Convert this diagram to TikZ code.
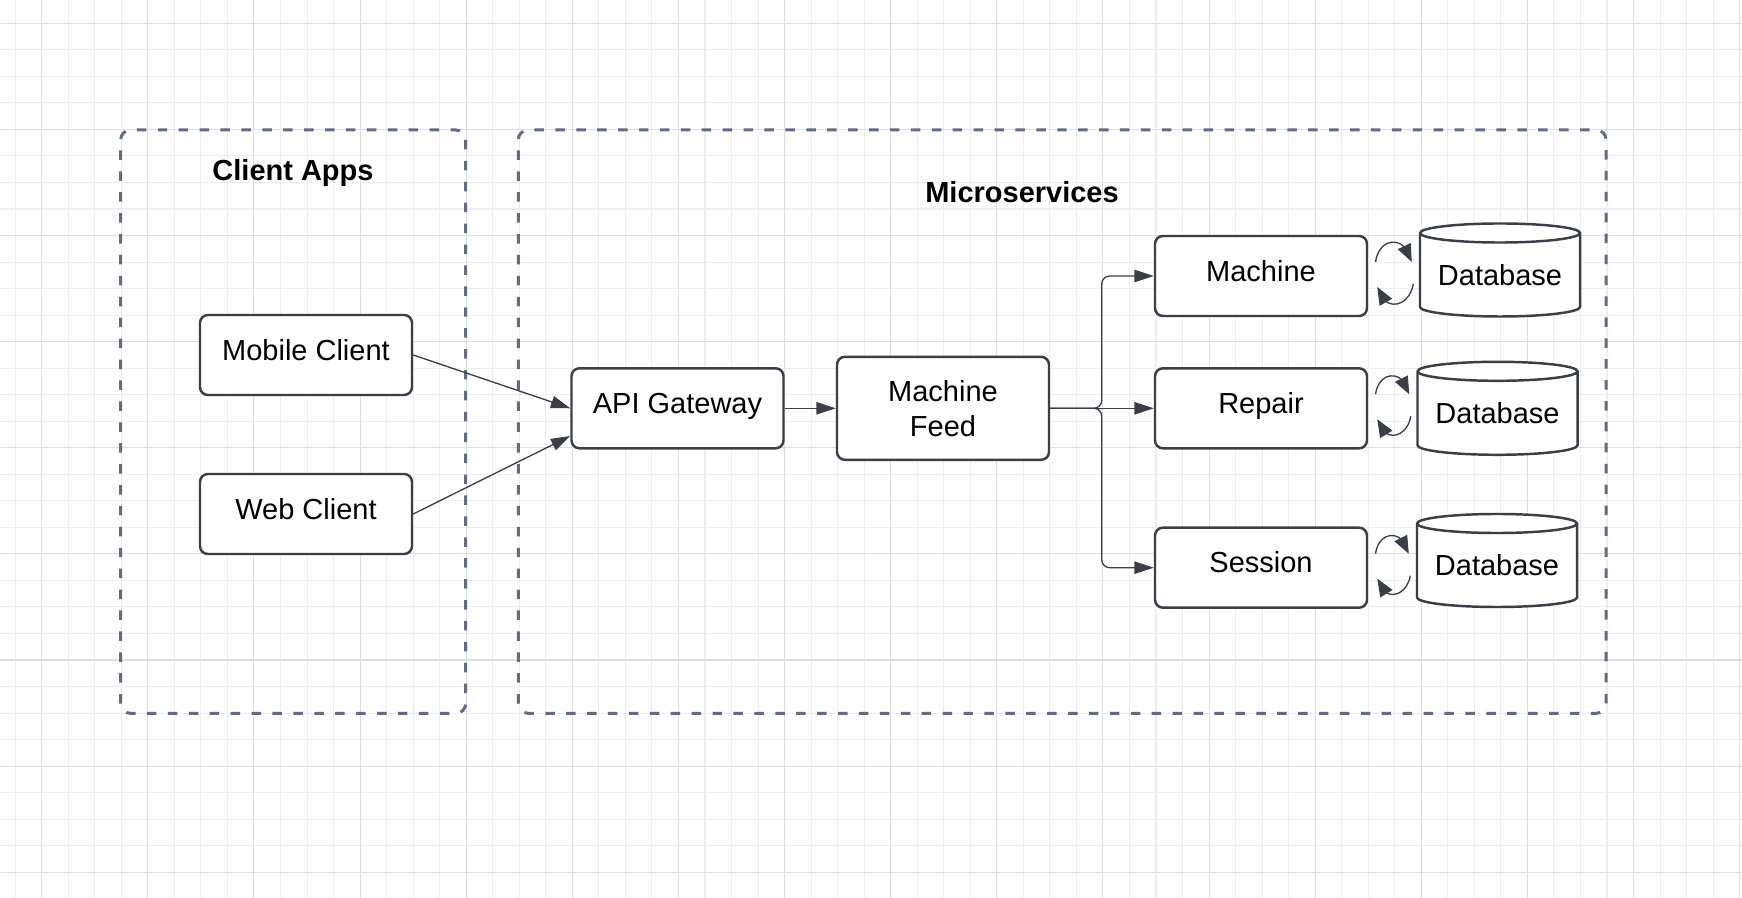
\documentclass[tikz,border=0pt]{standalone}
\usepackage{fontspec}
\setmainfont{Liberation Sans}
\usetikzlibrary{arrows.meta}
\usetikzlibrary{bending}
\usetikzlibrary{shapes.geometric}
\usetikzlibrary{calc}
\definecolor{gridminor}{RGB}{238,238,238}
\definecolor{gridmajor}{RGB}{222,222,222}
\definecolor{boxline}{RGB}{58,63,71}
\definecolor{frameline}{RGB}{96,108,133}

\tikzset{
  box/.style={draw=boxline, line width=1.4pt, rounded corners=4.5pt, fill=white,
    minimum width=4.24cm, minimum height=1.6cm, align=center,
    font=\fontsize{16.5}{20}\selectfont},
  service/.style={box, text height=0.8em, text depth=0.22em},
  database/.style={cylinder, shape border rotate=90, aspect=0.14, draw=boxline,
    line width=1.4pt, fill=white, minimum width=3.2cm, minimum height=1.86cm,
    text depth=0.3em, anchor=shape center, font=\fontsize{16.5}{20}\selectfont},
  group/.style={draw=frameline, line width=1.7pt, dash pattern=on 5.4pt off 6.5pt,
    rounded corners=5.5pt},
  grouptitle/.style={font=\fontsize{16.5}{20}\selectfont\bfseries},
  link/.style={draw=boxline, line width=0.75pt, -{Triangle[length=11pt,width=7pt]}},
  roundtrip/.style={draw=boxline, line width=0.75pt, -{Triangle[length=10pt,width=8pt,flex]}},
}

\begin{document}
\begin{tikzpicture}
\useasboundingbox (0, 0) rectangle (34.84, 17.96);
\fill[white] (0, 0) rectangle (34.84, 17.96);
\foreach \i in {0,...,65}
  \draw[gridminor, line width=0.6pt] ({0.304+0.5306*\i}, 0) -- ++(0, 17.96);
\foreach \i in {0,...,32}
  \draw[gridminor, line width=0.6pt] (0, {17.494-0.5306*\i}) -- ++(34.84, 0);
\foreach \i in {1,5,...,65}
  \draw[gridmajor, line width=0.6pt] ({0.304+0.5306*\i}, 0) -- ++(0, 17.96);
\foreach \i in {0,4,...,32}
  \draw[gridmajor, line width=0.6pt] (0, {17.494-0.5306*\i}) -- ++(34.84, 0);

\draw[group] (2.414, 3.694) rectangle (9.314, 15.36);
\draw[group] (10.366, 3.694) rectangle (32.12, 15.36);
\node[grouptitle] (appstitle) at (5.86, 14.5) {Client Apps};
\node[grouptitle] (servicestitle) at (20.44, 14.12) {Microservices};

\node[service] (mobile) at (6.12, 10.86) {Mobile Client};
\node[service] (web) at (6.12, 7.68) {Web Client};
\node[service] (gateway) at (13.55, 9.794) {API Gateway};
\node[box, minimum height=2.06cm] (feed) at (18.86, 9.794) {Machine\\Feed};
\node[service] (machine) at (25.22, 12.44) {Machine};
\node[service] (repair) at (25.22, 9.794) {Repair};
\node[service] (session) at (25.22, 6.606) {Session};
\node[database] (machinedb) at (30.0, 12.56) {Database};
\node[database] (repairdb) at (29.95, 9.794) {Database};
\node[database] (sessiondb) at (29.94, 6.75) {Database};

\draw[link] (mobile.east) -- (gateway.west);
\draw[link] (web.east) -- ([yshift=-0.554cm]gateway.west);
\draw[link] (gateway.east) -- (feed.west);
\draw[link, rounded corners=4.5pt] (feed.east) -- ++(1.03, 0) |- (machine.west);
\draw[link] (feed.east) -- (repair.west);
\draw[link, rounded corners=4.5pt] (feed.east) -- ++(1.03, 0) |- (session.west);

\foreach \srv/\db in {machine/machinedb, repair/repairdb, session/sessiondb} {
  \draw[roundtrip] ($(\srv.east)+(0.146, 0.28)$) to[out=82, in=100, looseness=1.9]
    ($(\srv.east -| \db.west)+(-0.14, 0.28)$);
  \draw[roundtrip] ($(\srv.east -| \db.west)+(-0.11, -0.16)$) to[out=-100, in=-78, looseness=1.8]
    ($(\srv.east)+(0.18, -0.22)$);
}
\end{tikzpicture}
\end{document}
